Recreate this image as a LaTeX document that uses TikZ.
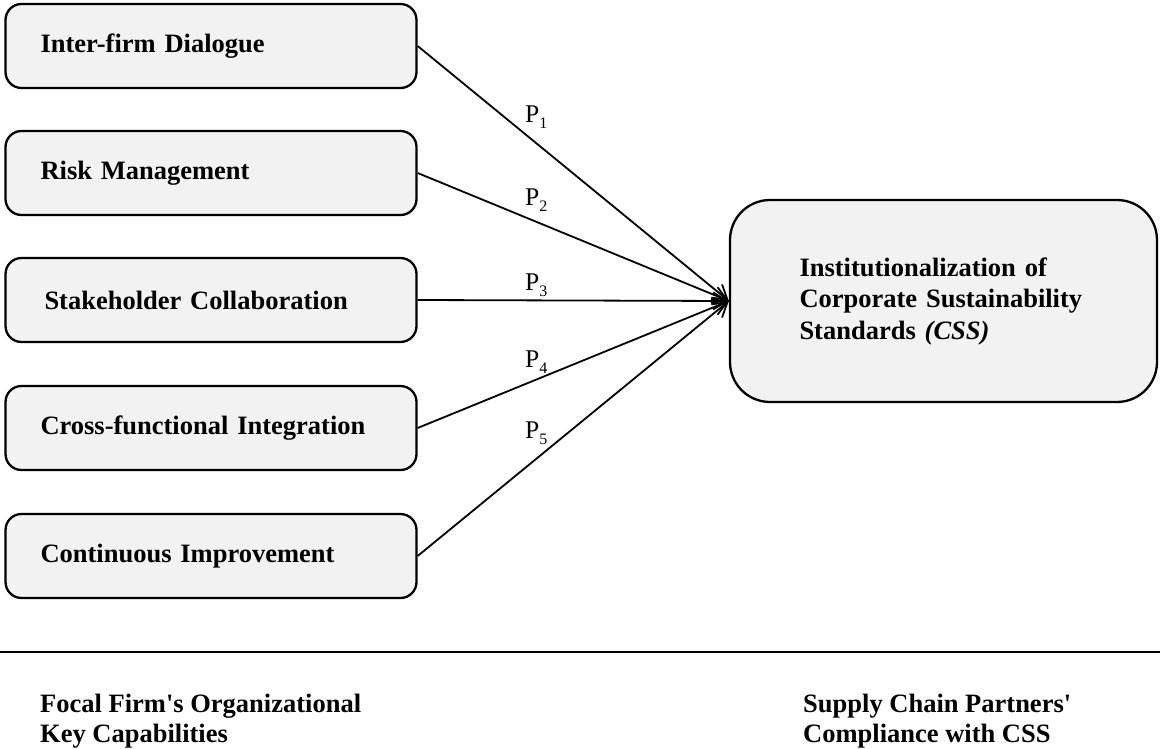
\documentclass[tikz,border=0pt]{standalone}
\usepackage{fontspec}
\setmainfont{Liberation Serif}
\usetikzlibrary{arrows.meta}
\definecolor{boxgray}{HTML}{F2F2F2}
\newcommand{\propsub}[1]{\raisebox{-6pt}{\fontsize{16}{16}\selectfont #1}}
\begin{document}
\begin{tikzpicture}[x=1pt,y=-1pt,
  capbox/.style={draw, line width=2.3pt, fill=boxgray, rounded corners=16pt,
    minimum width=411pt, minimum height=84pt, text width=341pt, align=left,
    inner xsep=0pt, font=\fontsize{26.5}{30}\selectfont\bfseries},
  outbox/.style={draw, line width=2.3pt, fill=boxgray, rounded corners=40pt,
    minimum width=427pt, minimum height=202pt, text width=288pt, align=left,
    inner xsep=0pt, font=\fontsize{26.5}{31.5}\selectfont\bfseries},
  conn/.style={line width=1.8pt, -{Straight Barb[length=14pt,width=17pt,line width=1.8pt]}},
  plabel/.style={font=\fontsize{25.5}{27}\selectfont, anchor=base west, inner sep=0pt},
  caption/.style={font=\fontsize{26.5}{30}\selectfont\bfseries, align=left, anchor=north west, inner sep=0pt}
]
\useasboundingbox (0,0) rectangle (1160,749);

% capability boxes
\node[capbox] (b1) at (211,46) {Inter-firm Dialogue};
\node[capbox] (b2) at (211,173) {Risk Management};
\node[capbox] (b3) at (211,300) {\hspace*{4pt}Stakeholder Collaboration};
\node[capbox] (b4) at (211,428) {Cross-functional Integration};
\node[capbox] (b5) at (211,556) {Continuous Improvement};

% outcome box
\node[outbox] (css) at (943.5,301) {Institutionalization of\\Corporate Sustainability\\Standards \textit{(CSS)}};

% propositions
\coordinate (tip) at (css.west);
\draw[conn] (b1.east) -- (tip);
\draw[conn] (b2.east) -- (tip);
\draw[conn] (b3.east) -- (tip);
\draw[conn] (b4.east) -- (tip);
\draw[conn] (b5.east) -- (tip);

\node[plabel] (p1) at (525,123) {P\propsub{1}};
\node[plabel] (p2) at (525,205) {P\propsub{2}};
\node[plabel] (p3) at (525,290) {P\propsub{3}};
\node[plabel] (p4) at (525,367) {P\propsub{4}};
\node[plabel] (p5) at (525,438) {P\propsub{5}};

% separator
\coordinate (sepL) at (0,652);
\coordinate (sepR) at (1160,652);
\draw[line width=2.2pt] (sepL) -- (sepR);

% captions
\node[caption] (capL) at (40,694) {Focal Firm\textquotesingle s Organizational\\Key Capabilities};
\node[caption] (capR) at (803,694) {Supply Chain Partners\textquotesingle\\Compliance with CSS};
\end{tikzpicture}
\end{document}
